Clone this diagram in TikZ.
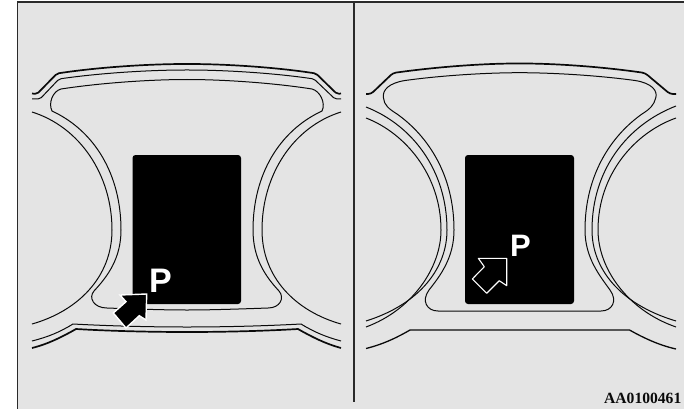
\documentclass[tikz,border=0pt]{standalone}
\usepackage{fontspec}
\setmainfont{Liberation Serif}
\setsansfont{Liberation Sans}
\definecolor{paneink}{HTML}{0A0A0A}
\definecolor{panefill}{HTML}{E4E4E4}
\definecolor{frameink}{HTML}{2A2A2A}
\begin{document}
\begin{tikzpicture}[
  x=1pt,
  y=-1pt,
  frameline/.style={frameink, line width=1.8pt},
  outline/.style={paneink, line width=1pt},
  heavyline/.style={paneink, line width=1.7pt},
  display/.style={black, fill=black, rounded corners=3pt},
  solidarrow/.style={fill=black, draw=white, line width=1.4pt, line join=miter},
  openarrow/.style={fill=black, draw=white, line width=1.1pt, line join=round},
  letter/.style={white, inner sep=0pt, anchor=base west, font=\sffamily\bfseries},
  partcode/.style={paneink, inner sep=0pt, anchor=base east, font=\fontsize{15.6}{16}\selectfont\bfseries}
]
  \useasboundingbox (0,0) rectangle (684,409);

  % ---- page and frame --------------------------------------------------
  \fill[panefill] (17.5,2) rectangle (684,409);
  \draw[frameline] (684,2) -- (17.5,2) -- (17.5,409);
  \draw[frameline] (354,2) -- (354,402);

  % ---- left panel, upper rim -------------------------------------------
  \draw[heavyline, rounded corners=2pt] (32,93.5) -- (37,94) -- (57,73.5)
    .. controls (100,67) and (150,64) .. (187,64)
    .. controls (224,64) and (274,67) .. (316,73.5) -- (337,94) -- (341,93.5);
  \draw[outline, rounded corners=2pt] (32,99) -- (40,99) -- (59,79)
    .. controls (100,73) and (150,70) .. (187,70)
    .. controls (224,70) and (274,73) .. (314,79) -- (335,99) -- (341,99);

  % ---- left panel, side arcs -------------------------------------------
  \draw[outline] (32,112) .. controls (80,127) and (112,175) .. (112,230)
    .. controls (112,277) and (78,311) .. (32,324);
  \draw[outline] (341,112) .. controls (293,127) and (262,175) .. (262,230)
    .. controls (262,277) and (295,311) .. (341,324);

  % ---- left panel, inner opening ---------------------------------------
  \draw[outline] (61,89) .. controls (100,83) and (150,79.5) .. (187,79.5)
    .. controls (224,79.5) and (274,83) .. (312,89)
    .. controls (320,91) and (326,103) .. (322,111)
    .. controls (279,131) and (253,175) .. (253,230)
    .. controls (253,258) and (265,276) .. (279,291)
    .. controls (285,298) and (280,308) .. (268,308)
    .. controls (240,309) and (210,310) .. (187,310)
    .. controls (164,310) and (134,309) .. (107,308)
    .. controls (94,308) and (88,298) .. (94,291)
    .. controls (108,276) and (121,258) .. (121,230)
    .. controls (121,175) and (95,131) .. (52,111)
    .. controls (48,103) and (53,91) .. (61,89) -- cycle;

  % ---- left panel, lower rim -------------------------------------------
  \draw[outline] (32,341) .. controls (48,337) and (60,332) .. (73,324)
    .. controls (110,326) and (150,327) .. (187,327)
    .. controls (224,327) and (264,326) .. (301,324)
    .. controls (314,332) and (326,337) .. (341,341);
  \draw[heavyline] (32,348) .. controls (48,344) and (62,337) .. (76,329)
    .. controls (110,331) and (150,332) .. (187,332)
    .. controls (224,332) and (264,331) .. (298,329)
    .. controls (312,337) and (326,344) .. (341,348);

  % ---- right panel, upper rim ------------------------------------------
  \draw[heavyline, rounded corners=3pt] (366,94) -- (371,94) -- (393,73)
    .. controls (440,66.5) and (485,63.5) .. (519.5,63.5)
    .. controls (554,63.5) and (600,66.5) .. (645,73) -- (670,94) -- (676,94);

  % ---- right panel, side arcs ------------------------------------------
  \draw[outline] (366,107) .. controls (412,125) and (447,170) .. (447,230)
    .. controls (447,268) and (420,304) .. (366,321);
  \draw[outline] (366,118) .. controls (405,133) and (441,175) .. (441,230)
    .. controls (441,268) and (412,310) .. (366,327);
  \draw[outline] (676,106) .. controls (627,125) and (592,170) .. (592,230)
    .. controls (592,268) and (619,304) .. (676,321);
  \draw[outline] (676,118) .. controls (634,133) and (598,175) .. (598,230)
    .. controls (598,268) and (627,310) .. (676,327);

  % ---- right panel, inner opening --------------------------------------
  \draw[outline] (405,80.5) .. controls (445,75) and (490,72.7) .. (519.5,72.7)
    .. controls (549,72.7) and (595,75) .. (635,80.5)
    .. controls (652,83) and (658,91) .. (655.7,98)
    .. controls (654,105) and (650,109) .. (642,114)
    .. controls (611,136) and (585,175) .. (585,230)
    .. controls (585,258) and (600,276) .. (610,290)
    .. controls (618,301) and (612,311) .. (601,311)
    -- (438,311)
    .. controls (427,311) and (421,301) .. (429,290)
    .. controls (440,276) and (454,258) .. (454,230)
    .. controls (454,175) and (428,136) .. (397,114)
    .. controls (389,109) and (384,105) .. (383.5,98)
    .. controls (382,90) and (389,83) .. (405,80.5) -- cycle;

  % ---- right panel, lower rim ------------------------------------------
  \draw[heavyline, line width=1.3pt] (366,348.5) .. controls (384,344) and (398,337) .. (410,330)
    -- (629.5,330) .. controls (642,337) and (658,345) .. (676,349);

  % ---- displays --------------------------------------------------------
  \fill[display] (132.5,155) rectangle (241,304);
  \fill[display] (465,155) rectangle (574,304);

  % ---- arrows and letters ----------------------------------------------
  \draw[solidarrow] (120,295) -- (146.7,294) -- (146,320) -- (139.3,315.7)
    -- (126,328) -- (113.3,313) -- (126,301.7) -- cycle;
  \draw[openarrow] (478.3,258.3) -- (506.7,258.3) -- (506.7,285.7) -- (499.3,280.7)
    -- (486.7,293.3) -- (472.3,279) -- (484.3,266.7) -- cycle;

  \node[letter, font=\fontsize{34}{34}\selectfont\sffamily\bfseries] (parkleft) at (149,292) {P};
  \node[letter, font=\fontsize{31}{31}\selectfont\sffamily\bfseries] (parkright) at (510,256) {P};
  \node[partcode] (code) at (681.5,403.5) {AA0100461};

\end{tikzpicture}
\end{document}
